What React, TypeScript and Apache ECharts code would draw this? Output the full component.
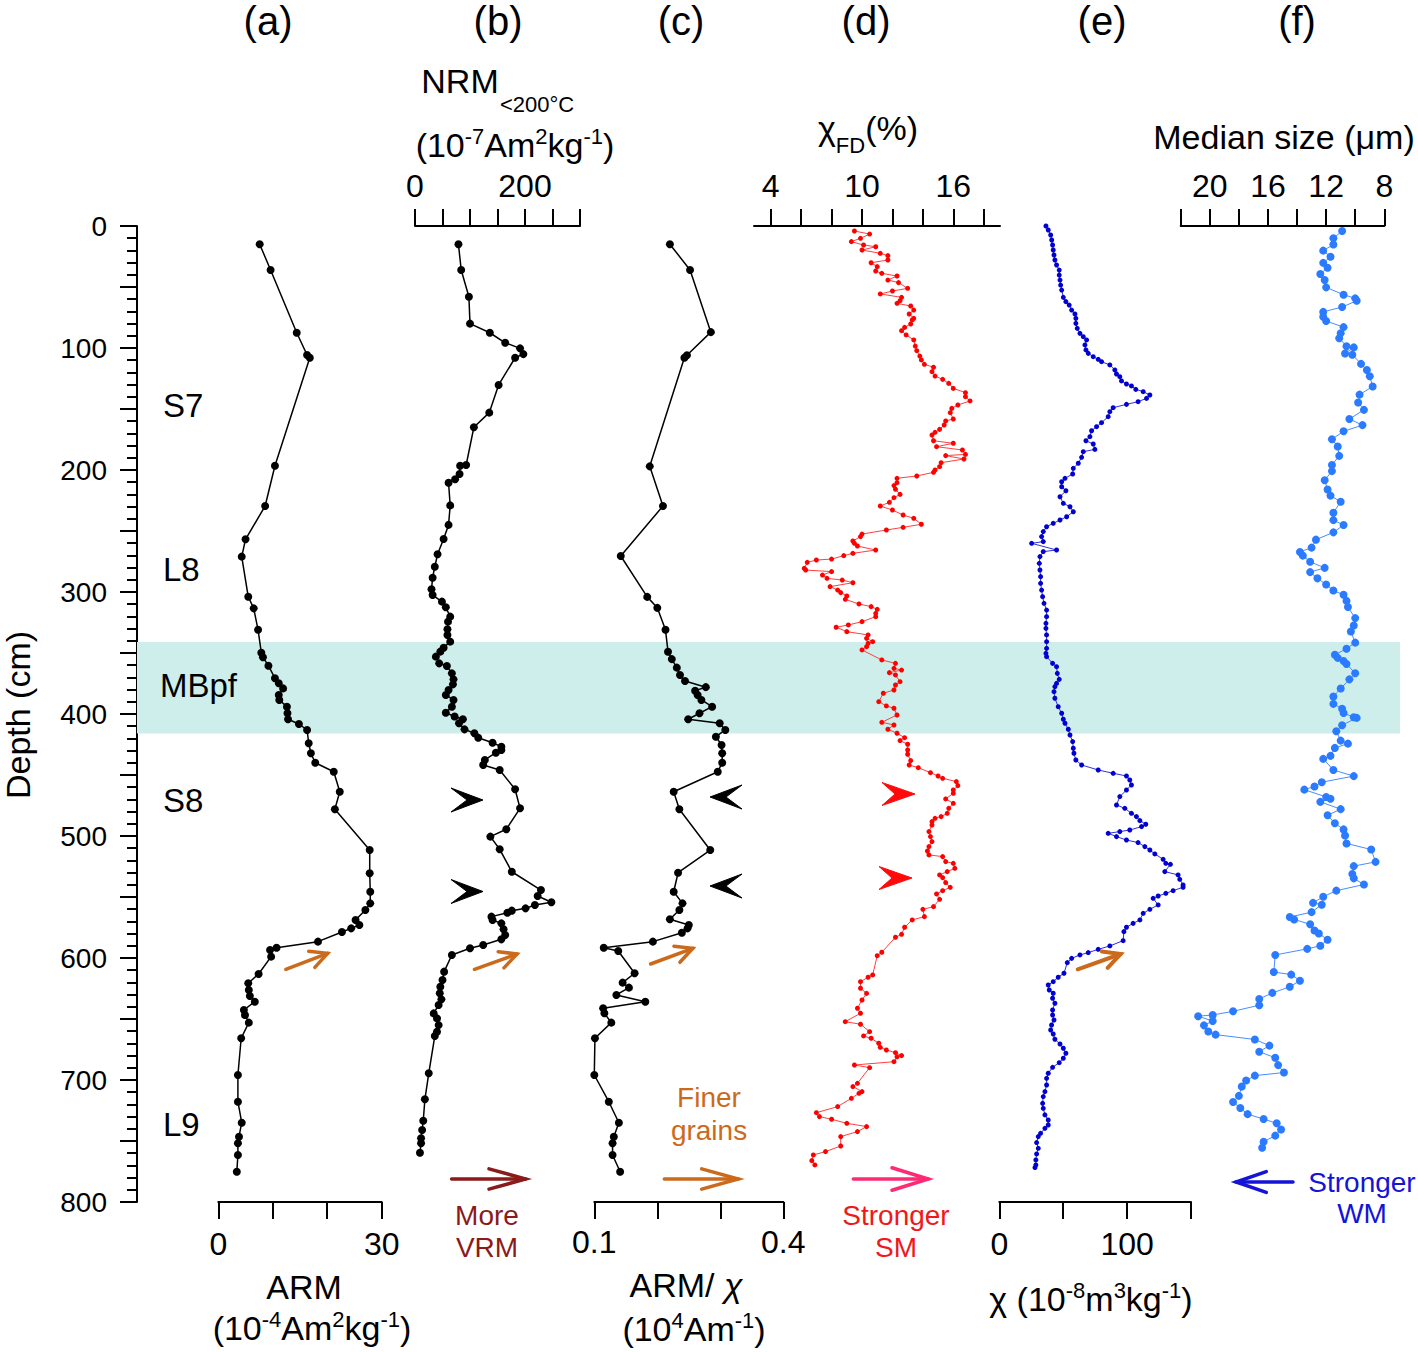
import React, { useEffect, useRef } from 'react';
import * as echarts from 'echarts';

const FONT = 'Arial, "Liberation Sans", Helvetica, sans-serif';

// ---------- data ----------
const bandDepth = [341, 416];

const armDepth = [15, 36, 87.5, 105.7, 108, 196.5, 229.5, 256.8, 271, 303.9, 313.4, 331, 349.8, 353.5, 360.4, 370.7, 374.8, 379, 384.4, 388.5, 394, 399.4, 404.3, 408.2, 413.1, 424, 432.2, 440, 447.3, 463.7, 478.1, 511.5, 530.6, 545.7, 555.2, 560.7, 568.9, 573, 575.7, 578.7, 586.6, 591.6, 593.4, 598.9, 613.1, 620.7, 626.2, 631.1, 635.8, 642.6, 646.7, 653, 665.8, 695.9, 717.8, 735, 746.5, 751.9, 761.5, 775.2];
const armValue = [7.6, 9.6, 14.4, 16.3, 16.8, 10.4, 8.6, 5.0, 4.3, 5.5, 6.5, 7.3, 7.9, 8.2, 9.2, 10.4, 11.1, 11.9, 11.1, 11.2, 12.6, 12.7, 12.8, 14.8, 16.3, 16.6, 17.0, 17.8, 21.2, 22.3, 21.4, 27.8, 27.8, 27.9, 27.9, 27.0, 25.2, 25.9, 24.4, 22.7, 18.3, 10.7, 9.5, 9.7, 7.4, 5.5, 5.6, 5.8, 6.7, 4.7, 4.9, 5.6, 4.2, 3.6, 3.6, 4.3, 3.8, 3.6, 3.6, 3.4];

const nrmDepth = [15, 36, 58, 80, 87.5, 95.7, 100.3, 105, 108, 130.3, 153, 165, 195.9, 196.5, 203.3, 207.6, 210.4, 229, 245, 256.6, 269.1, 279.3, 288.3, 297.8, 302.5, 307.9, 312.5, 320.2, 324.3, 330.6, 335.2, 340.7, 345.7, 348.9, 353, 358.5, 360.7, 366.7, 371.6, 375.7, 380.3, 384.4, 388.5, 394, 399, 402, 404.3, 407.6, 412.6, 415.8, 419.4, 423.5, 426.8, 429.5, 431.7, 437.7, 441.8, 445.9, 461.7, 477.3, 494.5, 500.5, 510.9, 529.3, 544.3, 549.2, 554.3, 556.6, 559.3, 561.2, 562.9, 566.1, 568.9, 571.6, 576.5, 581.1, 584.7, 589.3, 592, 597.5, 611.2, 618, 623.5, 628.9, 633.9, 638.5, 645.4, 649.5, 655, 660.4, 664, 694.5, 715.8, 733.4, 741, 747.8, 751.9, 759.6];
const nrmValue = [79, 84, 98, 100, 136, 164, 191, 197, 182, 152, 135, 107, 93, 82, 81, 73, 61, 64, 61, 52, 41, 36, 32, 30, 32, 49, 56, 64, 60, 59, 59, 64, 52, 46, 38, 44, 58, 67, 70, 69, 61, 56, 70, 67, 56, 72, 87, 80, 90, 108, 115, 141, 157, 157, 147, 127, 124, 154, 182, 191, 166, 137, 154, 176, 229, 223, 248, 218, 201, 176, 168, 139, 141, 157, 161, 164, 157, 124, 100, 67, 53, 50, 46, 45, 48, 43, 34, 40, 43, 40, 36, 25, 18, 15, 13, 11, 11, 9];

const ratioDepth = [15, 36, 87, 106, 108, 197, 229.5, 270.5, 304, 313, 331, 349, 355, 362, 368, 373, 378, 381, 384.4, 388.5, 394, 399.4, 404.3, 407.6, 413.1, 418.6, 425.4, 432.2, 439.9, 447.3, 463.7, 478.1, 511.5, 530.1, 545.7, 555.2, 560.7, 568.3, 573, 575.7, 579.3, 586.6, 591.6, 594.3, 612.5, 620.2, 624.3, 630.3, 635.8, 641.2, 645.3, 653, 665.8, 695.9, 717.8, 735, 746.5, 751.9, 761.5, 775.2];
const ratioValue = [0.220, 0.252, 0.285, 0.247, 0.243, 0.188, 0.209, 0.142, 0.184, 0.200, 0.213, 0.217, 0.223, 0.231, 0.236, 0.244, 0.277, 0.260, 0.264, 0.270, 0.287, 0.267, 0.249, 0.299, 0.308, 0.293, 0.302, 0.303, 0.303, 0.296, 0.226, 0.235, 0.284, 0.233, 0.226, 0.240, 0.235, 0.220, 0.250, 0.248, 0.239, 0.193, 0.115, 0.138, 0.164, 0.145, 0.155, 0.135, 0.181, 0.114, 0.116, 0.127, 0.101, 0.100, 0.123, 0.139, 0.131, 0.129, 0.129, 0.141];

const fdDepth = [4.1, 6.6, 10.1, 12.8, 15.6, 17, 19.7, 22.4, 24.3, 27.9, 30.1, 33.3, 36.9, 38.8, 41, 44.3, 46.4, 51.1, 53.3, 55.7, 58.5, 61.2, 63.4, 65.6, 68.9, 72.1, 75.7, 77, 80.3, 83.1, 85.8, 89.3, 93.4, 98.4, 102.2, 106.6, 109.8, 113.4, 115.8, 119.4, 123, 125.7, 129, 133.1, 136.6, 139.9, 143.4, 146.7, 149.5, 153, 158.2, 159.8, 163.1, 166.7, 169.1, 171.3, 176, 178.1, 180.9, 183.6, 187.2, 188.2, 191, 194, 197.3, 200, 201.9, 204.9, 206.8, 210.4, 212.8, 215.8, 220, 222.7, 226.5, 229.5, 232.8, 236.9, 239.6, 244.5, 247, 249.2, 252.5, 254.6, 258.2, 260.1, 262.3, 265.6, 268.3, 270.2, 273, 273.8, 275.7, 280.6, 282, 283.3, 286.1, 288.8, 290.2, 292.4, 295.6, 298.4, 300.5, 303.3, 306, 309.8, 312, 314.2, 317.5, 320.2, 324.3, 327, 328.9, 332.5, 335.2, 338, 340.7, 342.1, 344.8, 347.5, 355.7, 358.5, 362.6, 364, 366.1, 368, 373.5, 376.2, 380.3, 383, 389.9, 393.4, 395.3, 400.8, 406.8, 409, 412.5, 415.8, 419.4, 421.8, 424.8, 429.5, 433, 438.2, 441.8, 444, 448.1, 450.8, 452.7, 455.4, 458.7, 462.3, 465, 469.6, 473.2, 477.3, 481.4, 484.1, 485.5, 488.2, 491, 496.4, 500.5, 504.6, 508.7, 512.3, 515.5, 516.9, 521, 522.4, 526.5, 529.2, 531.9, 534.1, 538.2, 542.1, 544.8, 547.5, 551.9, 557.9, 560.1, 566.1, 568.8, 574.8, 580.6, 583, 595.3, 598.1, 613.9, 615.8, 619.4, 624.8, 629, 634.4, 641.2, 645.3, 652.2, 654.3, 660.4, 663.9, 665.8, 669.9, 673.2, 675.4, 677.6, 680, 681, 685, 687.7, 689.9, 702.7, 705.4, 709.5, 710.9, 715, 721.8, 726.8, 730, 732.2, 735.5, 738.2, 742.3, 746.4, 754.1, 758.7, 761.4, 766.1, 769.6];
const fdValue = [9.5, 10.5, 9.9, 9.3, 10.1, 10.9, 10.0, 11.2, 11.7, 11.7, 10.6, 11.0, 10.9, 11.3, 12.3, 11.7, 12.4, 13.0, 12.0, 11.2, 12.6, 12.5, 12.3, 13.2, 13.4, 13.1, 13.4, 13.3, 13.2, 12.8, 12.6, 12.9, 13.4, 13.5, 13.6, 13.8, 13.9, 14.1, 14.7, 14.6, 14.8, 15.3, 15.7, 16.0, 16.8, 16.8, 17.1, 16.3, 15.9, 15.8, 16.0, 15.5, 15.4, 15.1, 14.8, 14.6, 14.7, 16.0, 14.9, 16.6, 16.8, 15.5, 16.7, 15.2, 15.1, 14.8, 14.7, 13.6, 12.3, 12.3, 12.1, 12.2, 12.5, 12.1, 11.8, 11.2, 12.0, 12.7, 13.4, 13.9, 12.7, 11.6, 10.0, 9.9, 9.4, 9.5, 9.7, 10.9, 9.4, 8.8, 8.0, 7.0, 6.4, 6.2, 6.3, 8.0, 7.4, 7.7, 8.7, 9.4, 7.9, 8.4, 8.6, 9.0, 8.9, 9.8, 10.6, 11.0, 10.9, 10.9, 10.0, 9.1, 8.3, 9.0, 10.4, 10.3, 10.7, 10.4, 10.3, 10.0, 11.3, 12.2, 12.1, 12.6, 11.8, 12.2, 12.5, 12.2, 12.1, 11.4, 11.1, 11.6, 12.1, 12.3, 11.3, 12.1, 11.7, 12.3, 12.8, 12.5, 13.0, 13.0, 13.0, 13.2, 13.1, 13.7, 14.5, 15.0, 15.3, 16.2, 16.3, 16.0, 16.0, 15.5, 16.0, 15.7, 15.6, 15.2, 14.8, 14.6, 14.6, 14.4, 14.5, 14.6, 14.4, 14.3, 14.4, 15.3, 15.5, 16.0, 16.1, 15.6, 15.1, 15.3, 15.5, 15.8, 15.3, 14.9, 15.1, 14.7, 14.0, 14.1, 13.3, 12.8, 12.6, 12.2, 11.3, 11.0, 10.7, 10.4, 9.9, 9.9, 10.3, 10.0, 9.7, 9.9, 8.9, 9.9, 10.5, 10.1, 10.6, 11.1, 11.2, 11.6, 12.2, 12.6, 12.3, 12.1, 9.5, 10.5, 9.7, 9.4, 10.0, 9.8, 9.3, 8.4, 7.0, 7.2, 8.0, 9.0, 10.3, 9.7, 8.6, 8.6, 7.6, 6.8, 6.7, 6.9];

const chiDepth = [0, 3.3, 7.4, 11.5, 15.6, 19.7, 23.8, 27.9, 32, 36.1, 40.2, 44.3, 48.4, 52.5, 58.5, 62, 64.8, 68.9, 72.1, 75.7, 79.8, 83.9, 88, 90.7, 93.4, 97.5, 101.6, 104.4, 107.1, 109.3, 111.2, 113.9, 118, 121.3, 123.5, 127, 129.5, 131.1, 133.9, 135.8, 138.5, 141.3, 144, 146.2, 148.9, 152.2, 156.3, 161.2, 164.5, 167.8, 172.7, 176, 178.7, 183.1, 185, 189.6, 194.5, 198.6, 203.3, 206.8, 209.6, 213.7, 217, 221.9, 227.3, 230.1, 234.2, 238.3, 241, 243.7, 246.5, 250.5, 254.6, 258.7, 260.1, 265.6, 266.9, 271, 276.5, 282, 287.4, 292.9, 298.4, 303.8, 309.3, 314.8, 320.2, 325.7, 329.8, 335.2, 340.7, 346.2, 350.3, 353, 358.5, 361.2, 366.7, 371.6, 374.9, 377.6, 381.7, 387.1, 394, 399.4, 404.3, 407.6, 412.5, 417.2, 422.6, 428.1, 432.2, 437.7, 441.8, 445.9, 448.6, 450.8, 454.1, 458.2, 462.3, 467.7, 474.6, 477.3, 481.4, 484.1, 487.4, 490.4, 492.3, 495.1, 496.4, 497.8, 500.5, 503.3, 505.4, 508.7, 511.5, 514.7, 519.1, 522.4, 523.2, 529.2, 531.9, 535.5, 540.1, 542, 544.8, 547, 549.2, 551.1, 556.5, 560.1, 563.4, 568.8, 571.6, 574.8, 578.4, 585.8, 590.1, 592.9, 595.6, 597.5, 600.3, 603.8, 612.5, 615.8, 619.4, 622.1, 626.2, 628.9, 633, 637.1, 642.6, 646.7, 650.8, 654.9, 659, 662.3, 666.6, 670.5, 674, 678.1, 682.2, 685.8, 689.6, 694.5, 698.6, 704.1, 709.5, 713.6, 719.1, 723.2, 728.6, 732.8, 736.9, 739.6, 743.7, 746.4, 751.3, 756, 760.6, 765.5, 769.6, 771.8];
const chiValue = [36.5, 38.3, 40.2, 41.0, 41.7, 42.2, 42.8, 43.5, 44.8, 46.9, 46.9, 47.5, 48.0, 48.8, 50.1, 52.1, 54.7, 56.6, 59.2, 59.9, 59.9, 61.0, 63.1, 65.7, 68.3, 67.0, 67.8, 69.6, 73.5, 77.4, 80.0, 86.5, 90.4, 91.7, 94.3, 95.6, 99.5, 103.4, 106.8, 112.6, 117.8, 115.2, 108.6, 99.5, 89.1, 86.5, 85.2, 80.0, 76.1, 72.2, 70.9, 67.8, 73.5, 74.8, 65.7, 64.4, 61.8, 57.9, 57.4, 51.4, 48.8, 48.8, 52.1, 47.5, 50.1, 55.3, 57.9, 52.7, 47.5, 42.2, 37.0, 34.4, 33.1, 34.4, 25.3, 44.8, 34.4, 31.8, 31.3, 31.8, 32.3, 32.3, 33.1, 33.9, 35.0, 37.0, 37.0, 36.5, 36.5, 37.0, 37.0, 37.0, 36.5, 37.0, 41.7, 44.8, 45.4, 46.9, 44.8, 43.5, 42.8, 43.5, 46.1, 48.8, 50.1, 51.4, 54.0, 55.3, 57.4, 57.9, 58.4, 59.9, 64.4, 77.4, 89.1, 99.5, 102.1, 103.4, 99.5, 94.3, 91.7, 98.2, 103.4, 107.3, 110.0, 114.6, 111.3, 102.1, 94.3, 85.2, 91.7, 99.5, 108.6, 113.9, 117.8, 121.7, 128.2, 130.3, 133.9, 129.5, 139.9, 141.2, 143.8, 143.8, 136.0, 130.3, 124.3, 120.4, 124.3, 117.8, 112.6, 110.0, 104.7, 99.5, 97.5, 96.9, 86.5, 77.4, 69.6, 63.1, 56.6, 53.2, 50.6, 46.1, 42.2, 38.3, 39.1, 42.2, 41.7, 43.5, 41.7, 41.7, 42.8, 40.9, 40.2, 42.2, 43.5, 47.5, 50.1, 52.1, 50.1, 46.9, 41.7, 38.3, 37.0, 37.0, 35.7, 34.4, 33.9, 34.4, 35.7, 38.3, 38.3, 35.7, 32.3, 30.5, 29.2, 30.5, 29.2, 28.6, 28.6, 27.9];

const sizeDepth = [4.1, 10.1, 15.2, 20.2, 25.2, 30.2, 34.2, 39.3, 44.3, 50.3, 56.3, 59.3, 61.3, 66.4, 70.4, 74.4, 77.9, 82.9, 87.9, 92, 98.5, 99.5, 104.5, 105.5, 113, 118.1, 123.1, 131.6, 138.2, 144.7, 150.7, 158.2, 163.2, 168.3, 174.8, 180.8, 188.4, 195.9, 200.9, 208.4, 216, 221, 226, 235, 241.1, 245.1, 251.1, 257.1, 263.6, 267.2, 270.2, 275.2, 280.2, 283.7, 288.8, 293.8, 298.8, 302.3, 307.3, 312.3, 321.4, 327.4, 332.4, 341.5, 346.5, 351.5, 354, 356.5, 359, 366.6, 371.6, 379.1, 385.6, 391.7, 395.7, 399.2, 402.7, 403.2, 409.2, 414.2, 421.8, 424.3, 427.8, 434.3, 436.8, 445.9, 450.9, 455.9, 459.4, 462, 468, 469.5, 472, 478, 483, 489.6, 494.6, 499.6, 506.1, 511.1, 521.2, 524.7, 531.2, 534.7, 539.8, 544.8, 549.8, 554.8, 556.3, 562.4, 566.4, 568.4, 572.4, 577.4, 579.9, 585, 590, 592.5, 597.5, 611.5, 613.6, 618.6, 623.6, 628.6, 633.6, 638.7, 643.7, 646.7, 647.7, 651.7, 655.2, 660.2, 662.8, 666.8, 671.8, 676.8, 681.8, 687.8, 693.9, 696.4, 700.4, 705.4, 713, 718, 723, 728, 732, 735.5, 740.6, 745.6, 750.6, 755.6];
const sizeValue = [10.9, 11.5, 11.5, 12.2, 11.7, 12.2, 11.9, 12.4, 12.1, 12.0, 10.8, 10.0, 9.9, 10.9, 12.2, 12.2, 12.0, 10.8, 11.0, 11.1, 10.6, 10.1, 10.7, 10.2, 9.6, 9.2, 9.0, 8.8, 9.7, 9.8, 9.4, 10.4, 9.5, 10.8, 11.6, 11.2, 11.1, 11.6, 11.6, 12.1, 11.9, 11.7, 11.0, 11.5, 11.5, 10.8, 11.5, 12.7, 13.0, 13.8, 13.6, 13.1, 12.1, 13.1, 12.6, 12.0, 11.5, 10.8, 10.6, 10.5, 10.0, 10.1, 10.3, 10.0, 10.6, 11.4, 11.2, 10.8, 10.6, 10.0, 10.4, 11.0, 11.5, 11.5, 10.9, 10.8, 10.1, 9.9, 10.9, 11.3, 11.0, 10.5, 11.4, 11.7, 12.2, 11.5, 10.1, 12.3, 12.8, 13.5, 12.0, 11.7, 12.4, 11.0, 11.9, 11.4, 10.8, 10.7, 10.6, 8.9, 8.6, 10.1, 10.2, 10.1, 9.4, 11.3, 12.2, 12.9, 12.3, 13.0, 14.5, 14.2, 13.1, 12.8, 12.5, 11.9, 12.4, 13.3, 15.5, 15.6, 14.4, 13.8, 14.5, 15.7, 16.6, 16.6, 18.4, 19.8, 20.8, 19.8, 20.4, 20.1, 19.6, 16.9, 15.9, 16.6, 15.5, 15.3, 14.9, 16.9, 17.5, 17.8, 18.0, 18.4, 17.9, 17.4, 16.3, 15.4, 15.1, 15.5, 16.3, 16.4];

const depthLabelStep = 100;
const armLabels = [0, 30];
const nrmLabels = [0, 200];
const ratioLabels = [0.1, 0.4];
const ratioTicks = [0.1, 0.2, 0.3, 0.4];
const fdTicks = [4, 6, 8, 10, 12, 14, 16, 18];
const fdLabels = [4, 10, 16];
const chiLabels = [0, 100];
const sizeLabels = [20, 16, 12, 8];

// ---------- helpers ----------
const pairs = (d: number[], v: number[]) => d.map((x, i) => [v[i], x]);

const txt = (x: number, y: number, text: string, fontSize: number, fill = '#000', extra: any = {}) => ({
  type: 'text', x, y, z: 50,
  style: { text, fontSize, fontFamily: FONT, fill, align: 'center', verticalAlign: 'middle', textAlign: 'center', textVerticalAlign: 'middle', ...extra },
});

const richStyles = (fs: number, sfs: number, fill = '#000', mainLH = 40) => ({
  n: { fontSize: fs, fontFamily: FONT, fill, lineHeight: mainLH },
  i: { fontSize: fs, fontFamily: FONT, fill, lineHeight: mainLH, fontStyle: 'italic' },
  u: { fontSize: sfs, fontFamily: FONT, fill, lineHeight: sfs, verticalAlign: 'top' },
  d: { fontSize: sfs, fontFamily: FONT, fill, lineHeight: sfs, verticalAlign: 'bottom' },
});

const rtxt = (x: number, y: number, text: string, fs: number, sfs: number, mainLH?: number) => ({
  type: 'text', x, y, z: 50,
  style: { text, rich: richStyles(fs, sfs, '#000', mainLH), fontSize: fs, fontFamily: FONT, fill: '#000', align: 'center', verticalAlign: 'middle', textAlign: 'center', textVerticalAlign: 'middle' },
});

const openArrow = (x1: number, y1: number, x2: number, y2: number, color: string, width: number, headLen: number, headAng: number) => {
  const a = Math.atan2(y2 - y1, x2 - x1);
  const p1 = [x2 - headLen * Math.cos(a - headAng), y2 - headLen * Math.sin(a - headAng)];
  const p2 = [x2 - headLen * Math.cos(a + headAng), y2 - headLen * Math.sin(a + headAng)];
  return [
    { type: 'line', z: 50, shape: { x1, y1, x2, y2 }, style: { stroke: color, lineWidth: width, lineCap: 'round' } },
    { type: 'polyline', z: 50, shape: { points: [p1, [x2, y2], p2] }, style: { stroke: color, lineWidth: width, fill: 'none', lineCap: 'round', lineJoin: 'miter' } },
  ];
};

const headShape = (tipX: number, tipY: number, dir: number, color: string, len = 32, half = 12, notch = 16) => ({
  type: 'polygon', z: 50,
  shape: { points: [[tipX, tipY], [tipX - dir * len, tipY - half], [tipX - dir * (len - notch), tipY], [tipX - dir * len, tipY + half]] },
  style: { fill: color, stroke: color, lineWidth: 1 },
});

// ---------- layout of panels ----------
const TOP = 226;
const HEIGHT = 976;
const panels = [
  { left: 137, width: 1263 },
  { left: 218.3, width: 163.4 },
  { left: 415, width: 165 },
  { left: 594.3, width: 189 },
  { left: 754, width: 246 },
  { left: 999.3, width: 191.7 },
  { left: 1180.7, width: 203.6 },
];

const axisLine = { show: true, onZero: false, lineStyle: { color: '#000', width: 2 } };
const tick = (extra: any = {}) => ({ show: true, inside: false, length: 17, lineStyle: { color: '#000', width: 2 }, ...extra });
const lab = (extra: any = {}) => ({ show: true, color: '#000', fontSize: 32, fontFamily: FONT, ...extra });

const ORANGE = '#cc6a1c';
const TF = 34; // title font
const SF = 22; // super/subscript font

export default function App() {
  const ref = useRef<HTMLDivElement>(null);
  useEffect(() => {
    const chart = echarts.init(ref.current!, null, { renderer: 'svg' });

    const xAxis: any[] = [
      { gridIndex: 0, type: 'value', min: 0, max: 1, show: false },
      { gridIndex: 1, type: 'value', position: 'bottom', min: 0, max: 30, interval: 10, axisLine, axisTick: tick(), axisLabel: lab({ customValues: armLabels, margin: 26 }), splitLine: { show: false } },
      { gridIndex: 2, type: 'value', position: 'top', min: 0, max: 300, interval: 50, axisLine, axisTick: tick(), axisLabel: lab({ customValues: nrmLabels, margin: 24 }), splitLine: { show: false } },
      { gridIndex: 3, type: 'value', position: 'bottom', min: 0.1, max: 0.4, interval: 0.1, axisLine, axisTick: tick({ customValues: ratioTicks }), axisLabel: lab({ customValues: ratioLabels, margin: 24, formatter: (v: number) => v.toFixed(1) }), splitLine: { show: false } },
      { gridIndex: 4, type: 'value', position: 'top', min: 2.9, max: 19.07, axisLine, axisTick: tick({ customValues: fdTicks }), axisLabel: lab({ customValues: fdLabels, margin: 24 }), splitLine: { show: false } },
      { gridIndex: 5, type: 'value', position: 'bottom', min: 0, max: 150, interval: 50, axisLine, axisTick: tick(), axisLabel: lab({ customValues: chiLabels, margin: 26 }), splitLine: { show: false } },
      { gridIndex: 6, type: 'value', position: 'top', inverse: true, min: 8, max: 22, interval: 2, axisLine, axisTick: tick(), axisLabel: lab({ customValues: sizeLabels, margin: 24 }), splitLine: { show: false } },
    ];

    const yAxis: any[] = panels.map((_, i) =>
      i === 0
        ? {
            gridIndex: 0, type: 'value', min: 0, max: 800, inverse: true, interval: 50,
            axisLine, axisTick: tick(),
            minorTick: { show: true, splitNumber: 5, length: 10, lineStyle: { color: '#000', width: 2 } },
            axisLabel: lab({ fontSize: 28, margin: 30, formatter: (v: number) => (v % depthLabelStep === 0 ? String(v) : '') }),
            splitLine: { show: false }, minorSplitLine: { show: false },
          }
        : { gridIndex: i, type: 'value', min: 0, max: 800, inverse: true, show: false }
    );

    const line = (idx: number, d: number[], v: number[], color: string, lineColor: string, lw: number, size: number) => ({
      type: 'line', xAxisIndex: idx, yAxisIndex: idx, data: pairs(d, v), symbol: 'circle', symbolSize: size, showSymbol: true,
      itemStyle: { color, borderWidth: 0 }, lineStyle: { color: lineColor, width: lw }, silent: true, z: 5,
    });

    const left = { align: 'left', textAlign: 'left' };

    const graphic: any[] = [
      // panel letters
      txt(268, 21, '(a)', 40), txt(498, 21, '(b)', 40), txt(681, 21, '(c)', 40),
      txt(866, 21, '(d)', 40), txt(1102, 21, '(e)', 40), txt(1297, 21, '(f)', 40),
      // top titles
      txt(460, 81, 'NRM', TF),
      txt(500, 104, '<200°C', SF, '#000', left),
      rtxt(515, 145, '{n|(10}{u|-7}{n|Am}{u|2}{n|kg}{u|-1}{n|)}', TF, SF),
      rtxt(868, 128, '{n|χ}{d|FD}{n|(%)}', TF, SF, 57),
      txt(1284, 137, 'Median size (μm)', TF),
      // bottom titles
      txt(304, 1287, 'ARM', TF),
      rtxt(312, 1328, '{n|(10}{u|-4}{n|Am}{u|2}{n|kg}{u|-1}{n|)}', TF, SF),
      rtxt(686, 1285, '{n|ARM/ }{i|χ}', TF, SF, 36),
      rtxt(694, 1329, '{n|(10}{u|4}{n|Am}{u|-1}{n|)}', TF, SF),
      rtxt(1091, 1299, '{n|χ (10}{u|-8}{n|m}{u|3}{n|kg}{u|-1}{n|)}', TF, SF),
      // depth axis title
      { type: 'text', x: 18, y: 715, rotation: Math.PI / 2, z: 50, style: { text: 'Depth (cm)', fontSize: 34, fontFamily: FONT, fill: '#000', align: 'center', verticalAlign: 'middle', textAlign: 'center', textVerticalAlign: 'middle' } },
      // unit labels
      txt(163, 405, 'S7', 33, '#000', left),
      txt(163, 569, 'L8', 33, '#000', left),
      txt(160, 685, 'MBpf', 33, '#000', left),
      txt(163, 800, 'S8', 33, '#000', left),
      txt(163, 1124, 'L9', 33, '#000', left),
      // arrowheads
      headShape(483, 800, 1, '#000'), headShape(483, 891.5, 1, '#000'),
      headShape(710, 797, -1, '#000'), headShape(710, 886, -1, '#000'),
      headShape(915, 794, 1, '#ff0a0a', 33, 11.5, 13), headShape(912, 878, 1, '#ff0a0a', 33, 11.5, 13),
      // orange small arrows
      ...openArrow(285.8, 969.3, 327.6, 953.3, ORANGE, 3.5, 19, 0.47),
      ...openArrow(474.5, 969.3, 517, 954, ORANGE, 3.5, 19, 0.47),
      ...openArrow(650.6, 964, 692.8, 948.3, ORANGE, 3.5, 19, 0.47),
      ...openArrow(1077.7, 969.3, 1120.7, 954, ORANGE, 4, 19, 0.47),
      // bottom direction arrows
      ...openArrow(451.6, 1179, 525.6, 1179, '#8b1a1a', 3.5, 38, 0.27),
      ...openArrow(664.3, 1179, 738.3, 1179, ORANGE, 3.5, 38, 0.27),
      ...openArrow(853.3, 1179, 928.3, 1179, '#ff2a74', 3.5, 38, 0.3),
      ...openArrow(1293, 1182, 1236, 1182, '#1414d8', 3.5, 32, 0.33),
      // annotation texts
      txt(487, 1215, 'More', 28, '#8b1a1a'), txt(487, 1247, 'VRM', 28, '#8b1a1a'),
      txt(709, 1097, 'Finer', 28, ORANGE), txt(709, 1130, 'grains', 28, ORANGE),
      txt(896, 1215, 'Stronger', 28, '#f01818'), txt(896, 1247, 'SM', 28, '#f01818'),
      txt(1362, 1182, 'Stronger', 28, '#1414d8'), txt(1362, 1213, 'WM', 28, '#1414d8'),
    ];

    const option: any = {
      animation: false,
      backgroundColor: '#fff',
      textStyle: { fontFamily: FONT },
      grid: panels.map((p) => ({ left: p.left, width: p.width, top: TOP, height: HEIGHT, containLabel: false, outerBoundsMode: 'none' })),
      xAxis,
      yAxis,
      series: [
        {
          type: 'line', xAxisIndex: 0, yAxisIndex: 0, data: [], silent: true, z: 1,
          markArea: { silent: true, itemStyle: { color: '#cdeeea', opacity: 1 }, data: [[{ coord: [0, bandDepth[0]] }, { coord: [1, bandDepth[1]] }]] },
        },
        line(1, armDepth, armValue, '#000', '#000', 1.5, 8),
        line(2, nrmDepth, nrmValue, '#000', '#000', 1.5, 8),
        line(3, ratioDepth, ratioValue, '#000', '#000', 1.5, 8),
        line(4, fdDepth, fdValue, '#ff0000', '#ff4040', 1, 5),
        line(5, chiDepth, chiValue, '#0000d0', '#3030e0', 1, 5),
        line(6, sizeDepth, sizeValue, '#2a7bff', '#4a8cff', 1, 8),
      ],
      graphic,
    };
    chart.setOption(option);
    return () => chart.dispose();
  }, []);
  return <div ref={ref} style={{ position: 'absolute', left: 0, top: 0, width: 1418, height: 1352 }} />;
}
